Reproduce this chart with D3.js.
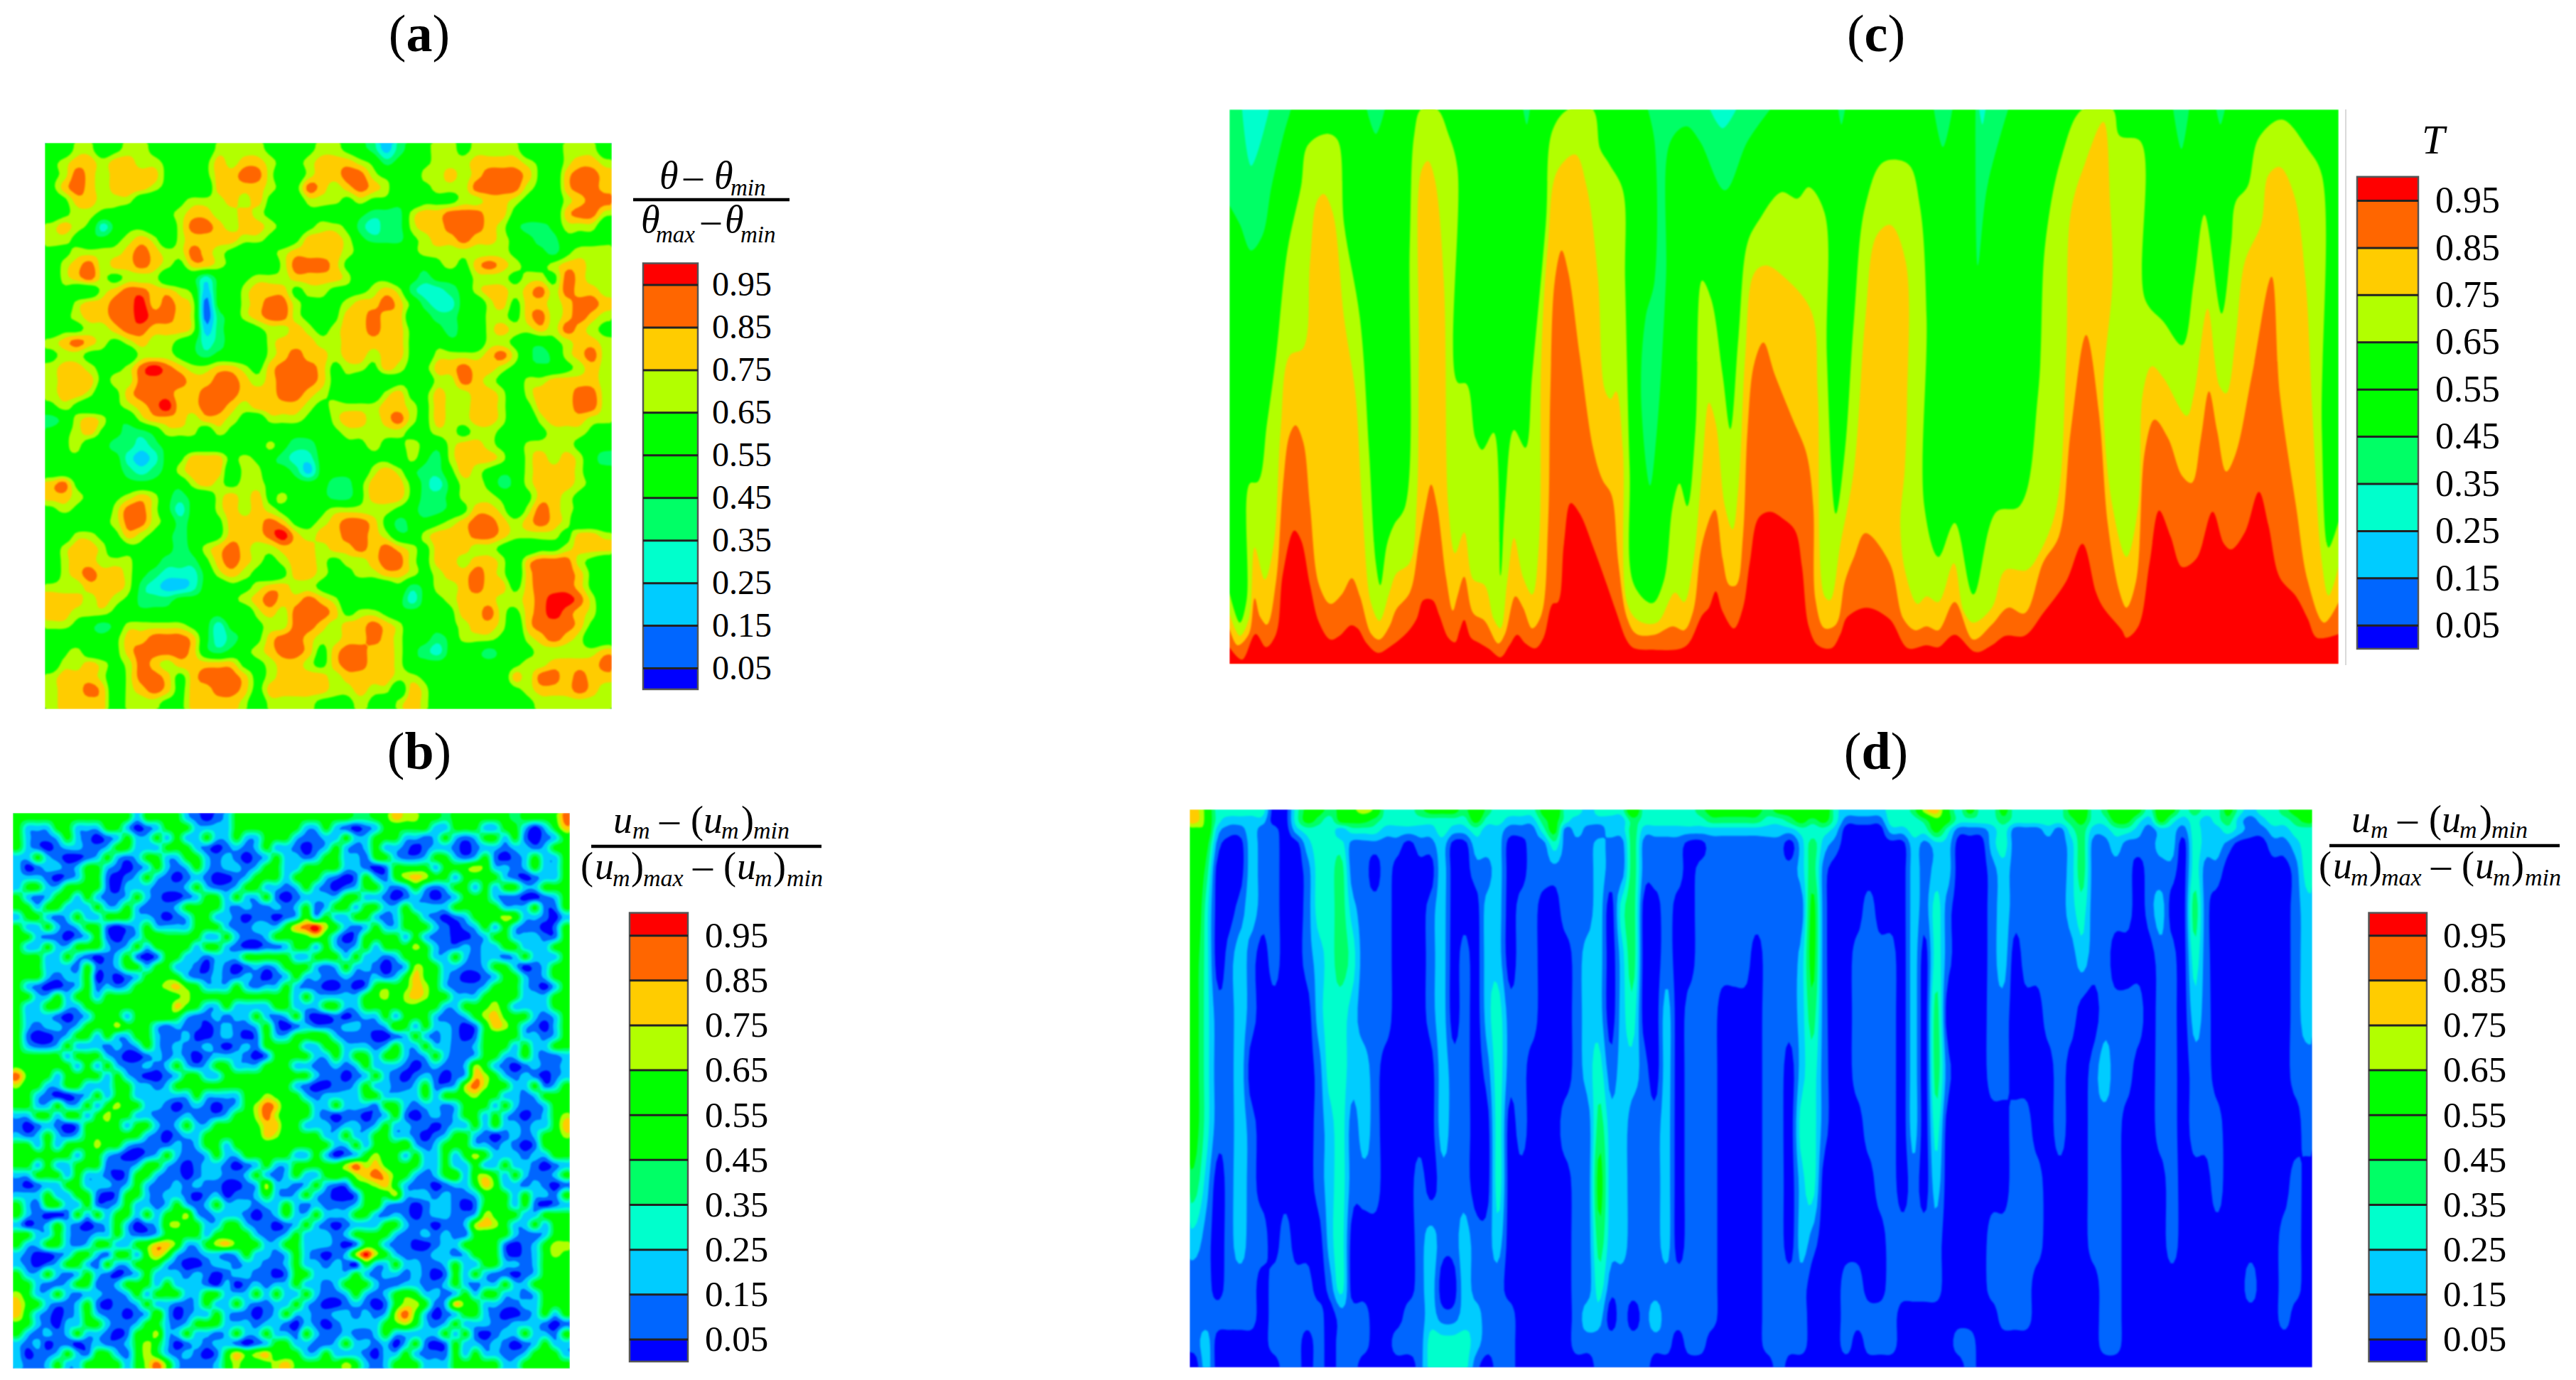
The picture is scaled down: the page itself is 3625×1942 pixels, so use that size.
<!DOCTYPE html>
<html>
<head>
<meta charset="utf-8">
<script src="https://d3js.org/d3.v7.min.js"></script>
<style>
body { margin: 0; background: #fff; }
text { font-family: "Liberation Serif", serif; fill: #000; }
</style>
</head>
<body>
<script>
// contour levels shared by all four panels, colours run low to high
var levels = [0.05, 0.15, 0.25, 0.35, 0.45, 0.55, 0.65, 0.75, 0.85, 0.95];
var bandColors = ["#0000ff", "#0066ff", "#00ccff", "#00ffcc", "#00ff66", "#00ff00", "#00ff00", "#b2ff00", "#ffcc00", "#ff6600", "#ff0000"];

// panel a: theta field, one character per cell, tenths (a = 1.0)
var thetaRows = [
"5577 5677 6555 5777 7655 6776 5424 5677 6777 7555 7775",
"6788 7887 7655 6878 8766 7888 7645 5677 7888 8765 7887",
"6798 7888 8655 6889 9755 7889 9766 5778 7899 9865 8998",
"6898 7888 7665 5888 8766 9878 9875 6677 7999 9765 8998",
"5688 7775 5567 7787 8655 7776 7665 5666 7788 7665 7899",
"5677 6655 5678 8778 7655 6656 5444 7889 9988 6665 8997",
"7876 3566 5579 9878 8765 6776 4344 7889 9987 5445 7775",
"7765 5678 7578 8887 7656 8887 5444 6788 9887 6544 6666",
"6677 7789 8779 8765 5678 8887 6666 6777 7777 6554 6777",
"5789 7889 8768 8765 5579 9986 5555 5567 6898 7667 8877",
"5789 7677 7555 3556 7778 8887 5665 5455 5777 6776 9877",
"5655 7899 8876 2557 8886 7766 6787 4334 5788 7897 9887",
"5578 899a 8987 1557 8997 6667 8898 6433 5578 6887 8998",
"5678 899a 9987 1457 8997 6568 8988 5544 5577 6897 8987",
"5667 7899 8887 2455 6778 7678 8988 6554 5578 7787 9876",
"7898 7678 7765 3455 5788 8778 8888 6565 5577 6556 7887",
"6776 6557 7765 4555 5789 8878 8788 6577 7789 7545 7897",
"7887 6679 a987 7887 6899 9867 7687 6688 9887 6555 6787",
"7888 6779 9998 8998 7899 9866 5556 6577 9876 5778 8887",
"7887 5689 9988 9998 8899 8765 5578 6687 7887 5788 8997",
"6765 5678 9a88 9987 8888 7677 7788 7687 7887 5688 8997",
"4578 7557 8887 8876 5777 6578 8789 7687 7887 5578 8877",
"5678 6544 5777 5766 5555 5567 7777 6677 6776 5567 7765",
"5675 5443 4555 5555 5754 4556 6766 7657 8876 5777 7655",
"5665 5532 3568 8867 6543 3555 5665 7547 8887 5787 8754",
"5555 5543 4578 8857 7554 2555 5787 5446 8765 5788 8755",
"8965 5555 5557 8767 7655 5544 6888 6435 7764 5788 8765",
"8876 5678 7545 5787 8675 5544 6888 6445 7776 5688 7655",
"6765 5799 7535 5787 8765 5677 7776 5445 6887 5798 7655",
"5555 6799 7645 5688 8986 6789 9864 5567 8998 7898 7555",
"5577 6687 6545 5688 89a8 7889 9875 5788 8998 7777 6887",
"5788 7566 5545 7898 7788 8788 9898 7688 8776 5566 7888",
"5788 7775 5444 6898 7678 8767 7899 7688 7887 5899 9765",
"5789 8875 4333 5787 6568 8766 7788 7678 8987 5899 9865",
"7778 8874 3223 5566 7887 7656 5556 4577 8988 6899 9865",
"8887 8764 4455 5567 8988 9875 5555 3567 8887 789a a975",
"8877 7655 5555 5565 7879 9986 7765 5556 8897 689a 9875",
"7765 4577 7776 5355 6779 9878 8987 5556 7887 5899 9865",
"5555 5688 9998 5345 6899 8778 8987 5545 7776 5789 8755",
"5675 5689 9998 5456 7899 8689 9887 5435 5545 5677 7778",
"5778 7679 8788 8886 6788 7689 9887 5555 5555 6778 8889",
"7888 7579 9868 9998 6788 8878 8887 7655 5655 8799 8988",
"7889 8578 9868 8998 6888 8877 8775 8755 5655 6788 8987",
"7888 8577 7668 8887 5777 7666 7657 8755 5555 5677 7777"
];

// panel b: melt velocity field, same coding
var meltRows = [
"55555555 55552555 52101255 55555555 55445687 75545555 55455569",
"52225522 25520125 55222255 55555225 21012555 55225552 25520258",
"52112521 01252252 52252252 25552112 25225552 21252125 52510125",
"52101221 12552225 55210121 25221012 52125221 01221012 21221255",
"22521001 25212552 25521210 12522125 52215521 12552125 10125225",
"20122125 52101252 12521221 25522555 52210155 55255676 22125225",
"22210125 51012521 01210012 55525552 10152157 87552555 52101225",
"25522555 51022211 12521125 52212521 01255212 52125525 25522555",
"52125525 21125210 01255252 25101222 25522101 21012555 21100125",
"55255222 52252111 25555212 11212512 55255225 22225555 52225115",
"25521252 25552210 12552210 11012625 22552125 52101256 67622102",
"52252125 51012522 22555211 222589a7 52125225 55210125 25211015",
"55211012 51012565 55522521 12555675 20155552 52110012 55222115",
"52252255 52125255 55255210 01125525 21252555 75211212 25522255",
"55522521 01251015 52212225 55552255 52522125 55225212 21252225",
"65522215 11255255 22102101 21255521 25221012 76522112 55201255",
"55521225 01012556 52112112 10125221 12112125 86521001 25521255",
"52100125 12125567 86522252 12252110 01015656 87521112 55521025",
"55225255 25555555 67555555 55552522 22256757 87552225 66522255",
"52255225 55555565 86522522 22552225 52255556 65522556 75222255",
"52221012 55525566 52112122 52125100 10122525 55211257 86552125",
"52122125 55755521 21101211 25101211 12211265 25221015 87521025",
"51001255 25225521 12001210 15225565 21110012 52121015 55522125",
"52112522 21212521 21121012 15555225 52221252 25221125 55252255",
"55555255 52100121 21012221 01555522 52552552 12521125 52252112",
"65555525 25211212 52125522 25552211 21252221 01211275 21012112",
"96552555 52521001 25522555 55565521 10125210 12101287 52121012",
"75522552 22552212 55555555 55552100 11252211 25112797 55225125",
"55210012 52552222 22522225 57655212 22255222 25255675 52212555",
"55225225 25755221 01210125 79855522 52221552 12212555 25211255",
"22552552 57552211 12111255 79755521 01101251 01212552 52101257",
"10121015 56525521 25225555 68855222 12212522 11012252 52212258",
"21252125 65555210 12255555 58755552 25225522 10125521 01212557",
"55252555 75521111 21255255 55565555 22525556 21255522 12101555",
"66555525 52100125 21125225 55552252 01257552 52252575 22212255",
"55252255 51112552 10122101 25225555 57978655 52252252 25221012",
"22555252 21015521 10122112 52125225 65789865 21256267 52521125",
"10122552 22125211 21211001 27221252 11567852 11012258 62212101",
"22252255 10155212 21012011 25212521 00155572 22121125 55252215",
"52155225 11252212 52125222 12252121 11256211 01221015 65251012",
"52100152 52552525 57212221 01252252 22552121 01221127 65522555",
"20125210 12520126 75522552 11012521 01222552 11011278 75225255",
"55225211 22521125 55525555 21125222 12555521 12121155 55211255",
"52255212 55225688 62257865 52255222 10155211 00122555 51012577",
"21001255 21552686 21122125 22125210 127a7521 11221255 51012576",
"21012552 15225552 10012212 21125221 21052252 21125225 52212555",
"52252125 21012522 21210122 11015522 22521221 21015252 11012555",
"55211255 11255525 22210201 21225221 25552112 21125212 25225556",
"75225212 21125255 52255222 52522521 12521256 52212525 52212555",
"86521125 10112522 11252252 11225210 01210157 75128652 21122555",
"85210125 21101262 01225211 01252211 22121279 62012552 10012525",
"65210225 52112552 12555222 12210210 12222567 52125222 11222101",
"52121252 21015572 25221252 25221521 12112522 22252510 12252215",
"21201101 21125752 01212210 12552211 25221202 51015221 21012522",
"20112521 55215752 12101586 78555225 22210225 21115252 21125552",
"21125225 55525796 21112575 56786555 57521255 52225555 52255555"
];

// panel c: height of each isotherm above the floor, [along, height]
var limeEdge = [[0,190],[23,110],[38,170],[45,480],[63,485],[83,640],[103,820],[128,1100],[158,1270],[173,1380],[213,1410],[238,1395],[253,1170],[288,920],[308,570],[323,270],[333,210],[348,320],[363,370],[388,420],[398,1120],[408,1410],[423,1475],[458,1475],[483,1410],[503,1320],[503,750],[523,745],[543,600],[558,570],[583,615],[598,235],[608,420],[628,622],[653,575],[668,770],[698,1170],[713,1420],[748,1475],[801,1475],[818,1370],[838,1330],[868,1260],[873,1020],[883,520],[893,210],[933,162],[958,220],[978,420],[993,480],[1010,420],[1028,620],[1043,1020],[1063,970],[1088,770],[1105,625],[1123,870],[1143,1120],[1168,1180],[1218,1255],[1253,1238],[1278,1268],[1313,1200],[1318,820],[1338,400],[1358,570],[1378,920],[1403,1220],[1443,1335],[1497,1330],[1523,1220],[1538,920],[1533,420],[1564,285],[1600,375],[1641,185],[1692,405],[1743,420],[1784,720],[1800,1120],[1836,1350],[1882,1475],[1948,1475],[1964,1405],[2010,1390],[2020,970],[2061,910],[2102,848],[2128,1020],[2151,1195],[2189,932],[2210,1120],[2220,1230],[2246,1270],[2271,1400],[2322,1448],[2379,1370],[2410,1300],[2410,620],[2425,310],[2447,380]];
var yellowEdge = [[0,135],[23,75],[43,120],[56,310],[78,225],[98,320],[113,620],[133,820],[163,840],[178,1070],[193,1230],[208,1250],[228,1200],[253,920],[278,720],[293,420],[313,160],[331,115],[353,190],[368,240],[398,270],[413,420],[418,820],[423,1310],[438,1338],[453,1290],[473,1020],[483,420],[498,295],[518,350],[538,225],[563,210],[583,120],[598,95],[613,220],[628,335],[648,230],[668,185],[683,320],[688,820],[703,1120],[723,1310],[763,1355],[788,1270],[813,1030],[828,730],[841,705],[853,725],[868,570],[878,160],[903,115],[943,110],[983,190],[1003,165],[1023,270],[1043,520],[1058,695],[1073,640],[1093,420],[1110,358],[1123,470],[1138,820],[1158,1040],[1183,1060],[1223,1030],[1283,940],[1298,720],[1313,180],[1325,170],[1348,320],[1378,520],[1403,920],[1428,1140],[1458,1168],[1492,1070],[1495,700],[1490,520],[1480,370],[1492,240],[1518,160],[1538,180],[1564,165],[1598,268],[1620,140],[1641,110],[1682,150],[1712,250],[1759,250],[1789,300],[1825,420],[1846,820],[1856,1200],[1887,1330],[1928,1442],[1943,1220],[1948,1020],[1928,720],[1948,420],[1979,285],[2005,420],[2015,720],[2035,792],[2061,760],[2112,660],[2128,720],[2158,945],[2184,740],[2199,720],[2220,870],[2240,1070],[2276,1170],[2292,1300],[2317,1322],[2348,1250],[2374,1020],[2389,670],[2410,270],[2425,182],[2447,260]];
var orangeEdge = [[0,95],[18,50],[43,80],[56,175],[68,125],[83,105],[103,220],[118,470],[133,610],[146,635],[163,590],[178,420],[198,210],[223,160],[248,185],[270,228],[288,180],[313,80],[331,65],[353,100],[368,145],[398,190],[418,320],[433,420],[445,477],[458,420],[478,230],[493,142],[503,180],[518,232],[538,135],[563,115],[593,55],[608,80],[631,180],[648,150],[668,95],[688,130],[703,370],[708,720],[718,1020],[733,1100],[748,1040],[773,820],[803,570],[823,490],[843,450],[858,270],[878,120],[898,80],[938,78],[978,100],[1003,90],[1023,140],[1043,320],[1071,410],[1088,280],[1103,210],[1118,210],[1133,340],[1143,620],[1158,800],[1178,855],[1203,770],[1243,650],[1273,560],[1288,420],[1293,170],[1313,95],[1338,105],[1358,220],[1378,285],[1403,348],[1456,270],[1487,120],[1513,90],[1538,100],[1564,90],[1600,165],[1641,65],[1682,105],[1718,150],[1754,135],[1795,270],[1830,340],[1856,620],[1890,875],[1918,670],[1938,370],[1964,190],[1979,150],[2000,220],[2020,570],[2041,650],[2071,600],[2102,500],[2123,482],[2143,600],[2161,725],[2179,620],[2199,512],[2220,560],[2256,770],[2299,1030],[2317,720],[2353,420],[2379,220],[2415,110],[2447,165]];
var redEdge = [[0,45],[28,12],[58,80],[81,45],[103,80],[118,240],[143,355],[158,330],[178,210],[198,110],[223,65],[243,75],[268,103],[283,95],[303,55],[328,30],[353,45],[393,85],[413,120],[428,170],[448,170],[463,130],[483,70],[498,58],[508,90],[518,117],[533,70],[553,55],[573,40],[598,18],[618,50],[635,78],[653,55],[675,42],[693,70],[713,160],[725,165],[738,320],[753,428],[773,400],[803,310],[833,210],[853,140],[878,60],[893,42],[938,38],[993,40],[1013,55],[1043,130],[1058,150],[1073,193],[1088,140],[1113,95],[1133,150],[1148,270],[1168,390],[1193,405],[1223,385],[1248,355],[1263,260],[1278,100],[1298,50],[1328,42],[1348,80],[1363,125],[1405,150],[1456,120],[1497,42],[1538,50],[1564,45],[1600,78],[1646,32],[1682,50],[1712,75],[1754,75],[1795,135],[1846,220],[1882,320],[1912,190],[1928,150],[1969,90],[1979,70],[2005,100],[2030,270],[2051,408],[2076,340],[2102,258],[2133,280],[2169,405],[2194,320],[2210,305],[2240,350],[2271,458],[2292,370],[2317,230],[2353,180],[2379,120],[2399,70],[2447,80]];
// cooler plumes hanging from the top wall
var springPlumes = [
  [[0,1220],[23,1170],[48,1100],[73,1140],[93,1270],[118,1400],[136,1475]],
  [[303,1475],[323,1410],[343,1475]],
  [[648,1475],[656,1435],[663,1475]],
  [[923,1475],[938,1390],[938,1020],[918,920],[908,720],[928,475],[943,620],[963,1020],[973,1390],[1008,1430],[1038,1390],[1093,1260],[1143,1390],[1193,1475]],
  [[1343,1475],[1350,1435],[1358,1475]],
  [[1554,1475],[1574,1375],[1595,1475]],
  [[1646,1475],[1651,1060],[1672,1270],[1718,1475]],
  [[2082,1475],[2100,1370],[2117,1475]],
  [[2177,1475],[2186,1435],[2196,1475]]
];
var cyanPlumes = [
  [[28,1475],[48,1325],[88,1475]],
  [[1060,1475],[1088,1425],[1118,1475]],
  [[1654,1475],[1661,1435],[1668,1475]]
];

// panel d: melt velocity, one string per column, top to bottom, read at meltDepths
var meltDepths = [0.003, 0.02, 0.037, 0.064, 0.111, 0.179, 0.267, 0.368, 0.47, 0.571, 0.672, 0.774, 0.855, 0.909, 0.956, 0.997];
var meltColumns = [
"8866665555421110","6665433333211122","3321000111000100","3210001111111100","3210012222221100",
"3222221101111100","3211110000010000","0011111000001110","0000000000011111","3320000000001111",
"5532111000001100","5433332211100111","4333333332221000","5523444333333111","6531123221100111",
"7531111122100110","6431011111100000","3321111100000000","3321000000000010","3320000000000110",
"4321000000111111","5321011100022233","5332222222110133","5320000011110133","4320001111122233",
"6532100000011221","4322122210011110","3322222333321111","3210000110000111","3210011111000000",
"3211111100000000","5431100000000000","6553100000000000","3311110001000000","3221111111111110",
"2211112221111210","3212222234543211","3221100012221011","3221132222221111","6444444321111011",
"3321100011111111","3321100001111210","3321111222221110","3321100000001100","3320000111111110",
"4320111111111110","5421111111111100","5421111000000000","5421111000000000","5421111000000000",
"5421110000000000","4321111111111110","5321111111111111","5420111100001110","5532212223221110",
"6434455433310000","6532111111000000","3321000000000000","2100000000001110","2100001110001100",
"2100011111000110","2100001111100110","3320001111111110","3320000000011000","4332222222111000",
"7431110000011000","8652233443211000","5532211010000000","3310000000000010","5310000000000011",
"3310000000000000","3322111110011000","5433222110011100","3311110001111100","3311111001111100",
"3311111000110000","3321111100000000","3311111111000000","5432221100000000","6544432000000000",
"3321111011110000","4321111121111110","6532110111111110","6531110110000000","5321000100000000",
"3211110000000000","6522121111000000","5322101111110000","3210000000000000","4333343211000000",
"3222111111000000","3322100001100000","5431000000000000","3220000000000000","2110000000001000",
"3210000000000000","3321000000000000","4321000000011100","5432111110111000","5533322211000000"
];

var w = 3625, h = 1942;
var svg = d3.select("body").append("svg").attr("width", w).attr("height", h);
svg.append("rect").attr("width", w).attr("height", h).attr("fill", "#fff");

var bandColor = d3.scaleThreshold().domain(levels).range(bandColors);

function cellValue(ch) {
    return parseInt(ch, 11) / 10;
}

function clipTo(id, box) {
    svg.append("clipPath").attr("id", id).append("rect")
        .attr("x", box.x).attr("y", box.y).attr("width", box.w).attr("height", box.h);
    return svg.append("g").attr("clip-path", "url(#" + id + ")").style("filter", "blur(1px)");
}

// rounds the marching squares corners, read values stay at their own cells
function catmull(a, b, c, d, t) {
    return 0.5 * (2 * b + (c - a) * t + (2 * a - 5 * b + 4 * c - d) * t * t + (3 * b - a - 3 * c + d) * t * t * t);
}

function resample(values, nx, ny, k) {
    var pick = function(i, n){ return Math.max(0, Math.min(n - 1, i)); };
    var wide = new Array(nx * k * ny), out = new Array(nx * k * ny * k);
    var mx = nx * k, my = ny * k;
    for (var r = 0; r < ny; r++) {
        for (var i = 0; i < mx; i++) {
            var u = (i + 0.5) / k - 0.5, j = Math.floor(u);
            wide[r * mx + i] = catmull(values[r * nx + pick(j - 1, nx)], values[r * nx + pick(j, nx)],
                values[r * nx + pick(j + 1, nx)], values[r * nx + pick(j + 2, nx)], u - j);
        }
    }
    for (var q = 0; q < my; q++) {
        var v = (q + 0.5) / k - 0.5, s = Math.floor(v);
        for (var c = 0; c < mx; c++) {
            var val = catmull(wide[pick(s - 1, ny) * mx + c], wide[pick(s, ny) * mx + c],
                wide[pick(s + 1, ny) * mx + c], wide[pick(s + 2, ny) * mx + c], v - s);
            out[q * mx + c] = Math.max(0, Math.min(1, val));
        }
    }
    return out;
}

function drawField(id, box, values, nx, ny, yScale, base) {
    var k = 4;
    var x = d3.scaleLinear().domain([0, nx]).range([box.x, box.x + box.w]);
    var y = yScale.copy().range(yScale.range().map(function(d){ return box.y + d * box.h; }));
    var path = d3.geoPath(d3.geoTransform({
        point: function(px, py) { this.stream.point(x(px / k), y(py / k)); }
    }));
    var contours = d3.contours().size([nx * k, ny * k]).thresholds(levels)(resample(values, nx, ny, k));
    var layer = clipTo(id, box);
    layer.append("rect").attr("x", box.x).attr("y", box.y).attr("width", box.w).attr("height", box.h).attr("fill", base);
    layer.selectAll("path").data(contours).enter().append("path")
        .attr("d", path)
        .attr("fill", function(d){ return bandColor(d.value); });
}

function drawRowField(id, box, rows) {
    var parsed = rows.map(function(r){ return Array.from(r.replace(/ /g, "")).map(cellValue); });
    var nx = parsed[0].length, ny = parsed.length;
    var values = [];
    parsed.forEach(function(r){ r.forEach(function(v){ values.push(v); }); });
    drawField(id, box, values, nx, ny, d3.scaleLinear().domain([0, ny]).range([0, 1]), bandColors[0]);
}

function colorBar(box) {
    var y = d3.scaleLinear().domain([1, 0]).range([box.top, box.bottom]);
    var edges = [0].concat(levels, [1]);
    var g = svg.append("g");
    g.selectAll("rect").data(bandColors).enter().append("rect")
        .attr("x", box.x)
        .attr("width", box.w)
        .attr("y", function(d, i){ return y(edges[i + 1]); })
        .attr("height", function(d, i){ return y(edges[i]) - y(edges[i + 1]); })
        .attr("fill", function(d){ return d; });
    g.append("rect").attr("x", box.x).attr("y", box.top).attr("width", box.w).attr("height", box.bottom - box.top)
        .attr("fill", "none").attr("stroke", "#555").attr("stroke-width", 2.5);
    var axis = d3.axisRight(y).tickValues(levels).tickFormat(d3.format(".2f"))
        .tickSizeInner(-box.w).tickSizeOuter(0).tickPadding(box.labelX - box.x - box.w);
    var ag = g.append("g").attr("transform", "translate(" + (box.x + box.w) + ",0)").call(axis);
    ag.select(".domain").remove();
    ag.selectAll(".tick line").attr("stroke", "#222").attr("stroke-width", 3);
    ag.selectAll(".tick text").style("font-family", "'Liberation Serif', serif").style("font-size", box.font + "px").attr("fill", "#000");
}

function panelTitle(letter, cx, baseline) {
    var t = svg.append("text").attr("x", cx).attr("y", baseline).attr("text-anchor", "middle").style("font-size", "74px");
    t.append("tspan").text("(");
    t.append("tspan").style("font-weight", "bold").text(letter);
    t.append("tspan").text(")");
}

// one text per line of the formula, pieces are [x, y, string, size, italic]
function mathLine(pieces, dx, dy) {
    svg.append("text").selectAll("tspan").data(pieces).enter().append("tspan")
        .attr("x", function(d){ return d[0] + dx; })
        .attr("y", function(d){ return d[1] + dy; })
        .style("font-size", function(d){ return d[3] + "px"; })
        .style("font-style", function(d){ return d[4] ? "italic" : "normal"; })
        .text(function(d){ return d[2]; });
}

function fractionLine(x1, x2, y) {
    svg.append("line").attr("x1", x1).attr("x2", x2).attr("y1", y).attr("y2", y)
        .attr("stroke", "#000").attr("stroke-width", 4.5);
}

// panel a
drawRowField("clip-a", {x: 63, y: 201, w: 798, h: 797}, thetaRows);
colorBar({x: 905, w: 77, top: 370.5, bottom: 970, labelX: 1002, font: 48});
panelTitle("a", 590, 72);
fractionLine(891, 1111, 281);
mathLine([[928, 265, "\u03b8", 54, 1], [962, 265, "\u2013", 54, 0], [1005, 265, "\u03b8", 54, 1], [1028, 275, "min", 33, 1]], 0, 0);
mathLine([[902, 327, "\u03b8", 54, 1], [923, 341, "max", 33, 1], [987, 327, "\u2013", 54, 0], [1020, 327, "\u03b8", 54, 1], [1042, 341, "min", 33, 1]], 0, 0);

// panel b
drawRowField("clip-b", {x: 18, y: 1144, w: 784, h: 782}, meltRows);
colorBar({x: 886, w: 82, top: 1284.6, bottom: 1916, labelX: 992, font: 51});
panelTitle("b", 590, 1082);

var meltTop = [
    [863, 1172, "u", 54, 1], [890, 1180, "m", 34, 1], [928, 1172, "\u2013", 56, 0], [972, 1172, "(", 54, 0],
    [990, 1172, "u", 54, 1], [1015, 1180, "m", 34, 1], [1043, 1172, ")", 54, 0], [1060, 1180, "min", 34, 1]
];
var meltBottom = [
    [817, 1237, "(", 54, 0], [837, 1237, "u", 54, 1], [862, 1247, "m", 34, 1], [888, 1237, ")", 54, 0], [905, 1247, "max", 34, 1],
    [975, 1237, "\u2013", 56, 0], [1018, 1237, "(", 54, 0], [1037, 1237, "u", 54, 1], [1062, 1247, "m", 34, 1],
    [1088, 1237, ")", 54, 0], [1107, 1247, "min", 34, 1]
];
fractionLine(832, 1156, 1191);
mathLine(meltTop, 0, 0);
mathLine(meltBottom, 0, 0);

// panel c
var cBox = {x: 1730, y: 154, w: 1561, h: 780.5};
var cx = d3.scaleLinear().domain([0, 2447]).range([cBox.x, cBox.x + cBox.w]);
var cy = d3.scaleLinear().domain([0, 1475]).range([cBox.y + cBox.h, cBox.y]);
var cLayer = clipTo("clip-c", cBox);
cLayer.append("rect").attr("x", cBox.x).attr("y", cBox.y).attr("width", cBox.w).attr("height", cBox.h).attr("fill", bandColor(0.6));
var riseArea = d3.area().x(function(d){ return cx(d[0]); }).y1(function(d){ return cy(d[1]); }).y0(cy(0)).curve(d3.curveCatmullRom.alpha(0.5));
var hangArea = d3.area().x(function(d){ return cx(d[0]); }).y1(function(d){ return cy(d[1]); }).y0(cy(1475)).curve(d3.curveCatmullRom.alpha(0.5));
cLayer.selectAll("path.spring").data(springPlumes).enter().append("path").attr("class", "spring").attr("d", hangArea).attr("fill", bandColor(0.4));
cLayer.selectAll("path.cyan").data(cyanPlumes).enter().append("path").attr("class", "cyan").attr("d", hangArea).attr("fill", bandColor(0.3));
[[limeEdge, 0.7], [yellowEdge, 0.8], [orangeEdge, 0.9], [redEdge, 1]].forEach(function(s){
    cLayer.append("path").datum(s[0]).attr("d", riseArea).attr("fill", bandColor(s[1]));
});
svg.append("line").attr("x1", 3301).attr("x2", 3301).attr("y1", 154).attr("y2", 936).attr("stroke", "#ccc").attr("stroke-width", 1.5);
colorBar({x: 3317, w: 86, top: 248.8, bottom: 913, labelX: 3427, font: 52});
panelTitle("c", 2640, 72);
mathLine([[3408, 216, "T", 58, 1]], 0, 0);

// panel d
var dValues = [];
meltDepths.forEach(function(depth, r){
    meltColumns.forEach(function(col){ dValues.push(cellValue(col[r])); });
});
var rowIndex = [0].concat(meltDepths.map(function(d, i){ return i + 0.5; }), [meltDepths.length]);
drawField("clip-d", {x: 1674, y: 1139, w: 1580, h: 785.5}, dValues, meltColumns.length, meltDepths.length,
    d3.scaleLinear().domain(rowIndex).range([0].concat(meltDepths, [1])), bandColors[0]);
colorBar({x: 3333.5, w: 81.5, top: 1284.6, bottom: 1916, labelX: 3438, font: 51});
panelTitle("d", 2640, 1082);
fractionLine(3278, 3602, 1190);
mathLine(meltTop, 2446, -1);
mathLine(meltBottom, 2446, -1);
</script>
</body>
</html>
